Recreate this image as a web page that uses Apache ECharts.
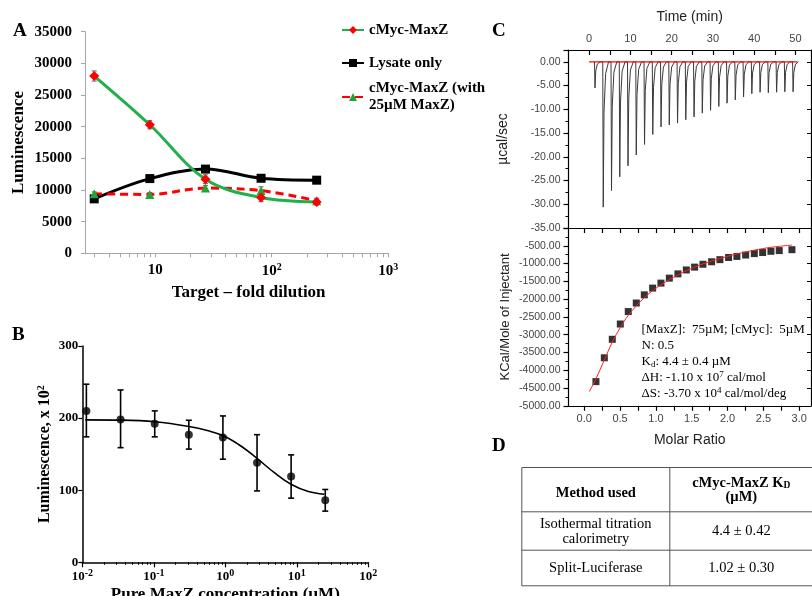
<!DOCTYPE html>
<html>
<head>
<meta charset="utf-8">
<script src="https://cdn.jsdelivr.net/npm/echarts@6/dist/echarts.min.js"></script>
<style>
html, body { margin: 0; padding: 0; background: #fff; }
#chart { width: 812px; height: 596px; }
</style>
</head>
<body>
<div id="chart"></div>
<script>
// ---- panel A : luminescence vs fold dilution
const dilution = [3, 9, 27, 81, 243]
const mycMaxZ = [28000, 20300, 11700, 8800, 8100]
const mycMaxZErr = [800, 650, 700, 650, 450]
const lysateOnly = [8600, 11800, 13300, 11850, 11550]
const lysateErr = [300, 300, 350, 300, 300]
const withMaxZ = [9400, 9300, 10300, 9900, 8300]
const withMaxZErr = [300, 300, 400, 600, 400]
const dilutionTicks = [3, 4, 5, 6, 7, 8, 9, 10, 20, 30, 40, 50, 60, 70, 80, 90, 100, 200, 300, 400, 500, 600, 700, 800, 900, 1000]
const dilutionLabels = [10, 100, 1000]

// ---- panel B : pure MaxZ titration
const maxzConc = [0.0114, 0.0343, 0.103, 0.309, 0.926, 2.78, 8.33, 25]
const lumB = [210, 198, 192, 177, 173, 138, 119, 86]
const lumBLow = [174, 159, 174, 157, 143, 99, 89, 71]
const lumBHigh = [247, 239, 210, 197, 203, 177, 149, 101]
const fitBConc = [0.011, 0.0356, 0.104, 0.31, 0.578, 0.94, 1.69, 2.75, 4.95, 8.3, 14.5, 24.3]
const fitBLum = [197.6, 197.2, 194.9, 188.4, 182.4, 175.4, 160.6, 144.4, 123.6, 108.3, 98.1, 94.4]
const concTicks = [0.02, 0.03, 0.04, 0.05, 0.06, 0.07, 0.08, 0.09, 0.2, 0.3, 0.4, 0.5, 0.6, 0.7, 0.8, 0.9, 2, 3, 4, 5, 6, 7, 8, 9, 20, 30, 40, 50, 60, 70, 80, 90]

// ---- panel C : ITC raw injections
const injTime = [1.3, 3.3, 5.3, 7.3, 9.3, 11.3, 13.3, 15.3, 17.3, 19.3, 21.3, 23.3, 25.3, 27.3, 29.3, 31.3, 33.3, 35.3, 37.3, 39.3, 41.3, 43.3, 45.3, 47.3, 49.3]
const injPeak = [-5.5, -30.6, -27.1, -24.2, -21.9, -19.6, -17.4, -15.3, -13.7, -13.3, -12.9, -12.2, -11.6, -10.8, -10.2, -9.4, -8.7, -8.0, -7.4, -6.7, -6.4, -6.5, -6.4, -6.3, -6.3]
const timeTicks = [0, 5, 10, 15, 20, 25, 30, 35, 40, 45, 50]
const timeLabels = [0, 10, 20, 30, 40, 50]

// ---- panel C : integrated heats
const molarRatio = [0.163, 0.28, 0.391, 0.503, 0.614, 0.726, 0.838, 0.954, 1.07, 1.187, 1.307, 1.424, 1.54, 1.656, 1.777, 1.893, 2.014, 2.13, 2.252, 2.373, 2.489, 2.605, 2.721, 2.898]
const heat = [-4320, -3650, -3130, -2700, -2350, -2110, -1880, -1690, -1550, -1410, -1290, -1180, -1100, -1020, -950, -890, -830, -800, -760, -720, -690, -655, -635, -610]
const fitRatio = [0.07, 0.163, 0.28, 0.391, 0.503, 0.614, 0.838, 1.07, 1.307, 1.54, 1.777, 2.014, 2.252, 2.489, 2.721, 2.898]
const fitHeat = [-4600, -4240, -3710, -3210, -2800, -2460, -1960, -1600, -1320, -1100, -930, -790, -675, -580, -515, -480]
const ratioTicks = [0, 0.25, 0.5, 0.75, 1, 1.25, 1.5, 1.75, 2, 2.25, 2.5, 2.75, 3]
const ratioLabels = [0, 0.5, 1, 1.5, 2, 2.5, 3]

const serif = 'Liberation Serif'
const sans = 'Liberation Sans'
const supRich = { s: { fontSize: 10, fontWeight: 'bold', fontFamily: serif, padding: [0, 0, 7, 0] } }

function errorBars(xIdx, yIdx, xs, lows, highs, color, cap, width) {
  return {
    type: 'custom',
    xAxisIndex: xIdx,
    yAxisIndex: yIdx,
    data: xs.map((x, i) => [x, lows[i], highs[i]]),
    encode: { x: 0, y: [1, 2] },
    z: 1,
    silent: true,
    renderItem: (params, api) => {
      const lo = api.coord([api.value(0), api.value(1)])
      const hi = api.coord([api.value(0), api.value(2)])
      const style = { stroke: color, lineWidth: width }
      return {
        type: 'group',
        children: [
          { type: 'line', shape: { x1: lo[0], y1: lo[1], x2: hi[0], y2: hi[1] }, style },
          { type: 'line', shape: { x1: lo[0] - cap, y1: lo[1], x2: lo[0] + cap, y2: lo[1] }, style },
          { type: 'line', shape: { x1: hi[0] - cap, y1: hi[1], x2: hi[0] + cap, y2: hi[1] }, style }
        ]
      }
    }
  }
}

function pairs(xs, ys) {
  return xs.map((x, i) => [x, ys[i]])
}

// each injection drawn as a quick drop to its peak and a decay back to baseline
let rawTrace = []
injTime.forEach((t, i) => {
  let p = injPeak[i]
  rawTrace.push([t, 0], [t + 0.12, p], [t + 0.3, p * 0.35], [t + 0.7, p * 0.08], [t + 1.4, 0])
})

// A: plain "10", B: 10 with exponent everywhere
function supLabelA(v) {
  let e = Math.round(Math.log10(v))
  if (e === 1) return '10'
  return '10{s|' + e + '}'
}
function supLabelB(v) {
  let e = Math.round(Math.log10(v))
  return '10{s|' + e + '}'
}

const noZero = { onZero: false }

let chart = echarts.init(document.getElementById('chart'))
chart.setOption({
  animation: false,
  backgroundColor: '#fff',
  grid: [
    { left: 85, top: 31.7, width: 303.3, height: 221.6, outerBoundsMode: 'none' },
    { left: 82.3, top: 346, width: 286, height: 216.3, outerBoundsMode: 'none' },
    { left: 568.5, top: 50, width: 242.5, height: 178, outerBoundsMode: 'none' },
    { left: 568.5, top: 228, width: 242.5, height: 177.8, outerBoundsMode: 'none' }
  ],
  legend: [
    {
      data: ['cMyc-MaxZ', 'Lysate only'],
      orient: 'vertical',
      left: 341,
      top: 21.5,
      padding: 0,
      itemGap: 16,
      itemWidth: 22,
      itemHeight: 10,
      selectedMode: false,
      textStyle: { fontFamily: serif, fontWeight: 'bold', fontSize: 15, color: '#000', lineHeight: 17 }
    },
    {
      data: [{ name: 'cMyc-MaxZ (with 25µM MaxZ)', textStyle: { padding: [17, 0, 0, 0] } }],
      orient: 'vertical',
      left: 341,
      top: 71.5,
      padding: 0,
      itemWidth: 22,
      itemHeight: 10,
      selectedMode: false,
      formatter: () => 'cMyc-MaxZ (with\n25µM MaxZ)',
      textStyle: { fontFamily: serif, fontWeight: 'bold', fontSize: 15, color: '#000', lineHeight: 17 }
    }
  ],
  xAxis: [
    {
      // A
      type: 'log', gridIndex: 0, min: 2.5, max: 1000, logBase: 10,
      axisLine: { onZero: false, lineStyle: { color: '#a6a6a6', width: 1 } },
      axisTick: { customValues: dilutionTicks, length: 4, lineStyle: { color: '#a6a6a6' } },
      axisLabel: {
        customValues: dilutionLabels, formatter: supLabelA, margin: 9, rich: supRich,
        fontFamily: serif, fontWeight: 'bold', fontSize: 15, color: '#000'
      },
      splitLine: { show: false },
      name: 'Target – fold dilution', nameLocation: 'middle', nameGap: 31,
      nameTextStyle: { fontFamily: serif, fontWeight: 'bold', fontSize: 17, color: '#000', padding: [0, 0, 0, 24] }
    },
    {
      // B major
      type: 'log', gridIndex: 1, min: 0.01, max: 100, logBase: 10,
      axisLine: { onZero: false, lineStyle: { color: '#000', width: 1.5 } },
      axisTick: { length: 5, lineStyle: { color: '#000', width: 1.2 } },
      axisLabel: {
        formatter: supLabelB, margin: 6, rich: supRich,
        fontFamily: serif, fontWeight: 'bold', fontSize: 13, color: '#000'
      },
      splitLine: { show: false },
      name: 'Pure MaxZ concentration (µM)', nameLocation: 'middle', nameGap: 24,
      nameTextStyle: { fontFamily: serif, fontWeight: 'bold', fontSize: 17, color: '#000' }
    },
    {
      // B minor ticks
      type: 'log', gridIndex: 1, min: 0.01, max: 100, logBase: 10, position: 'bottom',
      axisLine: { show: false, onZero: false },
      axisTick: { customValues: concTicks, length: 2.5, lineStyle: { color: '#000', width: 1 } },
      axisLabel: { show: false },
      splitLine: { show: false }
    },
    {
      // C raw : time on top
      type: 'value', gridIndex: 2, position: 'top', min: -5, max: 53.76,
      axisLine: { onZero: false, lineStyle: { color: '#000', width: 1.2 } },
      axisTick: { customValues: timeTicks, inside: true, length: 5, lineStyle: { color: '#000', width: 1.2 } },
      axisLabel: { customValues: timeLabels, margin: 6, fontFamily: sans, fontSize: 11, color: '#444' },
      splitLine: { show: false },
      name: 'Time (min)', nameLocation: 'middle', nameGap: 26,
      nameTextStyle: { fontFamily: sans, fontSize: 14, color: '#222' }
    },
    {
      type: 'value', gridIndex: 2, position: 'bottom', min: -5, max: 53.76,
      axisLine: { onZero: false, lineStyle: { color: '#000', width: 1.2 } },
      axisTick: { show: false }, axisLabel: { show: false }, splitLine: { show: false }
    },
    {
      // C heats : molar ratio
      type: 'value', gridIndex: 3, position: 'bottom', min: -0.22, max: 3.164,
      axisLine: { onZero: false, lineStyle: { color: '#000', width: 1.2 } },
      axisTick: { customValues: ratioTicks, length: 5, lineStyle: { color: '#000', width: 1.2 } },
      axisLabel: {
        customValues: ratioLabels, formatter: v => v.toFixed(1), margin: 8,
        fontFamily: sans, fontSize: 11, color: '#444'
      },
      splitLine: { show: false },
      name: 'Molar Ratio', nameLocation: 'middle', nameGap: 27,
      nameTextStyle: { fontFamily: sans, fontSize: 14, color: '#222' }
    },
    {
      type: 'value', gridIndex: 3, position: 'top', min: -0.22, max: 3.164,
      axisLine: { onZero: false, lineStyle: { color: '#000', width: 1.2 } },
      axisTick: { customValues: ratioTicks, inside: true, length: 5, lineStyle: { color: '#000', width: 1.2 } },
      axisLabel: { show: false }, splitLine: { show: false }
    }
  ],
  yAxis: [
    {
      // A
      type: 'value', gridIndex: 0, min: 0, max: 35000, interval: 5000,
      axisLine: { show: true, onZero: false, lineStyle: { color: '#a6a6a6', width: 1 } },
      axisTick: { show: true, length: 4, lineStyle: { color: '#a6a6a6' } },
      axisLabel: { margin: 13, formatter: v => String(v), fontFamily: serif, fontWeight: 'bold', fontSize: 15, color: '#000' },
      splitLine: { show: false },
      name: 'Luminescence', nameLocation: 'middle', nameGap: 58,
      nameTextStyle: { fontFamily: serif, fontWeight: 'bold', fontSize: 17, color: '#000' }
    },
    {
      // B
      type: 'value', gridIndex: 1, min: 0, max: 300, interval: 100,
      axisLine: { show: true, onZero: false, lineStyle: { color: '#000', width: 1.5 } },
      axisTick: { show: true, length: 4, lineStyle: { color: '#000', width: 1.2 } },
      axisLabel: { margin: 4, fontFamily: serif, fontWeight: 'bold', fontSize: 13, color: '#000' },
      splitLine: { show: false },
      name: 'Luminescence, x 10{s|2}', nameLocation: 'middle', nameGap: 28,
      nameTextStyle: {
        fontFamily: serif, fontWeight: 'bold', fontSize: 16, color: '#000',
        rich: { s: { fontSize: 10, fontWeight: 'bold', fontFamily: serif, padding: [0, 0, 8, 0] } }
      }
    },
    {
      // C raw
      type: 'value', gridIndex: 2, min: -35, max: 2.5, interval: 5,
      axisLine: { show: true, onZero: false, lineStyle: { color: '#000', width: 1.2 } },
      axisTick: { show: true, length: 5, lineStyle: { color: '#000', width: 1.2 } },
      minorTick: { show: true, splitNumber: 2, length: 3, lineStyle: { color: '#000' } },
      axisLabel: {
        formatter: v => (v > 0 ? '' : v.toFixed(2)), margin: 8,
        fontFamily: sans, fontSize: 10.5, color: '#444'
      },
      splitLine: { show: false },
      name: 'µcal/sec', nameLocation: 'middle', nameGap: 58,
      nameTextStyle: { fontFamily: sans, fontSize: 14, color: '#222' }
    },
    {
      type: 'value', gridIndex: 2, position: 'right', min: -35, max: 2.5, interval: 5,
      axisLine: { show: true, onZero: false, lineStyle: { color: '#000', width: 1.2 } },
      axisTick: { show: true, inside: true, length: 4, lineStyle: { color: '#000' } },
      axisLabel: { show: false }, splitLine: { show: false }
    },
    {
      // C heats
      type: 'value', gridIndex: 3, min: -5000, max: 0, interval: 500,
      axisLine: { show: true, onZero: false, lineStyle: { color: '#000', width: 1.2 } },
      axisTick: { show: true, length: 5, lineStyle: { color: '#000', width: 1.2 } },
      minorTick: { show: true, splitNumber: 2, length: 3, lineStyle: { color: '#000' } },
      axisLabel: {
        formatter: v => (v === 0 ? '' : v.toFixed(2)), margin: 8,
        fontFamily: sans, fontSize: 10.5, color: '#444'
      },
      splitLine: { show: false },
      name: 'KCal/Mole of Injectant', nameLocation: 'middle', nameGap: 57,
      nameTextStyle: { fontFamily: sans, fontSize: 13, color: '#222' }
    },
    {
      type: 'value', gridIndex: 3, position: 'right', min: -5000, max: 0, interval: 500,
      axisLine: { show: true, onZero: false, lineStyle: { color: '#000', width: 1.2 } },
      axisTick: { show: true, inside: true, length: 4, lineStyle: { color: '#000' } },
      axisLabel: { show: false }, splitLine: { show: false }
    }
  ],
  series: [
    // A
    errorBars(0, 0, dilution, lysateOnly.map((v, i) => v - lysateErr[i]), lysateOnly.map((v, i) => v + lysateErr[i]), '#666', 2.5, 1),
    errorBars(0, 0, dilution, withMaxZ.map((v, i) => v - withMaxZErr[i]), withMaxZ.map((v, i) => v + withMaxZErr[i]), '#666', 2.5, 1),
    errorBars(0, 0, dilution, mycMaxZ.map((v, i) => v - mycMaxZErr[i]), mycMaxZ.map((v, i) => v + mycMaxZErr[i]), '#666', 2.5, 1),
    {
      name: 'Lysate only', type: 'line', xAxisIndex: 0, yAxisIndex: 0,
      data: pairs(dilution, lysateOnly), smooth: 0.35,
      symbol: 'rect', symbolSize: 9,
      itemStyle: { color: '#000' }, lineStyle: { color: '#000', width: 3 }
    },
    {
      name: 'cMyc-MaxZ (with 25µM MaxZ)', type: 'line', xAxisIndex: 0, yAxisIndex: 0,
      data: pairs(dilution, withMaxZ), smooth: 0.35,
      symbol: 'triangle', symbolSize: 9,
      itemStyle: { color: '#22a33c' }, lineStyle: { color: '#ff0000', width: 3, type: [8, 5] }
    },
    {
      name: 'cMyc-MaxZ', type: 'line', xAxisIndex: 0, yAxisIndex: 0,
      data: pairs(dilution, mycMaxZ), smooth: 0.35,
      symbol: 'diamond', symbolSize: 10,
      itemStyle: { color: '#ff0000' }, lineStyle: { color: '#1fb04a', width: 3 }
    },
    // B
    errorBars(1, 1, maxzConc, lumBLow, lumBHigh, '#000', 3, 1.6),
    {
      type: 'line', xAxisIndex: 1, yAxisIndex: 1,
      data: pairs(fitBConc, fitBLum), smooth: 0.4, showSymbol: false,
      lineStyle: { color: '#000', width: 1.6 }
    },
    {
      type: 'scatter', xAxisIndex: 1, yAxisIndex: 1,
      data: pairs(maxzConc, lumB), symbol: 'circle', symbolSize: 8,
      itemStyle: { color: '#000' }
    },
    // C raw
    {
      type: 'line', xAxisIndex: 3, yAxisIndex: 2,
      data: rawTrace, showSymbol: false,
      lineStyle: { color: '#3a3a3a', width: 1 }
    },
    {
      type: 'line', xAxisIndex: 3, yAxisIndex: 2,
      data: [[0, 0], [50.5, 0]], showSymbol: false,
      lineStyle: { color: '#ff0000', width: 1.2 }
    },
    // C heats
    {
      type: 'line', xAxisIndex: 5, yAxisIndex: 4,
      data: pairs(fitRatio, fitHeat), smooth: 0.4, showSymbol: false,
      lineStyle: { color: '#ff2020', width: 1 }
    },
    {
      type: 'scatter', xAxisIndex: 5, yAxisIndex: 4,
      data: pairs(molarRatio, heat), symbol: 'rect', symbolSize: 7,
      itemStyle: { color: '#000' }
    }
  ],
  graphic: [
    { type: 'text', left: 13, top: 22, style: { text: 'A', font: 'bold 19px "Liberation Serif"', fill: '#000' } },
    { type: 'text', left: 12, top: 326, style: { text: 'B', font: 'bold 19px "Liberation Serif"', fill: '#000' } },
    { type: 'text', left: 492, top: 22, style: { text: 'C', font: 'bold 19px "Liberation Serif"', fill: '#000' } },
    { type: 'text', left: 492, top: 437, style: { text: 'D', font: 'bold 19px "Liberation Serif"', fill: '#000' } },
    {
      type: 'text', left: 641.5, top: 322,
      style: {
        text: '[MaxZ]:  75µM; [cMyc]:  5µM\nN: 0.5\nK{sub|d}: 4.4 ± 0.4 µM\nΔH: -1.10 x 10{sup|7} cal/mol\nΔS: -3.70 x 10{sup|4} cal/mol/deg',
        font: '13px "Liberation Serif"', fill: '#000', lineHeight: 16,
        rich: {
          sub: { fontSize: 9, fontFamily: serif, padding: [6, 0, 0, 0] },
          sup: { fontSize: 9, fontFamily: serif, padding: [0, 0, 6, 0] }
        }
      }
    },
    // table D
    {
      type: 'group', left: 519.3, top: 465,
      children: [
        { type: 'rect', shape: { x: 0, y: 0, width: 290.7, height: 118.3 }, style: { fill: 'none', stroke: '#555', lineWidth: 1 } },
        { type: 'line', shape: { x1: 148, y1: 0, x2: 148, y2: 118.3 }, style: { stroke: '#555', lineWidth: 1 } },
        { type: 'line', shape: { x1: 0, y1: 44.3, x2: 290.7, y2: 44.3 }, style: { stroke: '#555', lineWidth: 1 } },
        { type: 'line', shape: { x1: 0, y1: 82.7, x2: 290.7, y2: 82.7 }, style: { stroke: '#555', lineWidth: 1 } },
        { type: 'text', x: 74, y: 26, style: { text: 'Method used', font: 'bold 14.5px "Liberation Serif"', fill: '#000', align: 'center', verticalAlign: 'middle' } },
        {
          type: 'text', x: 219.5, y: 22.5,
          style: {
            text: 'cMyc-MaxZ K{sub|D}\n(µM)', font: 'bold 14.5px "Liberation Serif"', fill: '#000',
            align: 'center', verticalAlign: 'middle', lineHeight: 14,
            rich: { sub: { fontSize: 9.5, fontWeight: 'bold', fontFamily: serif, padding: [6, 0, 0, 0] } }
          }
        },
        { type: 'text', x: 74, y: 64.3, style: { text: 'Isothermal titration\ncalorimetry', font: '14.5px "Liberation Serif"', fill: '#000', align: 'center', verticalAlign: 'middle', lineHeight: 15 } },
        { type: 'text', x: 219.5, y: 63.5, style: { text: '4.4 ± 0.42', font: '14.5px "Liberation Serif"', fill: '#000', align: 'center', verticalAlign: 'middle' } },
        { type: 'text', x: 74, y: 101, style: { text: 'Split-Luciferase', font: '14.5px "Liberation Serif"', fill: '#000', align: 'center', verticalAlign: 'middle' } },
        { type: 'text', x: 219.5, y: 101, style: { text: '1.02 ± 0.30', font: '14.5px "Liberation Serif"', fill: '#000', align: 'center', verticalAlign: 'middle' } }
      ]
    }
  ]
})
window.onresize = () => {
  chart.resize()
}
</script>
</body>
</html>
